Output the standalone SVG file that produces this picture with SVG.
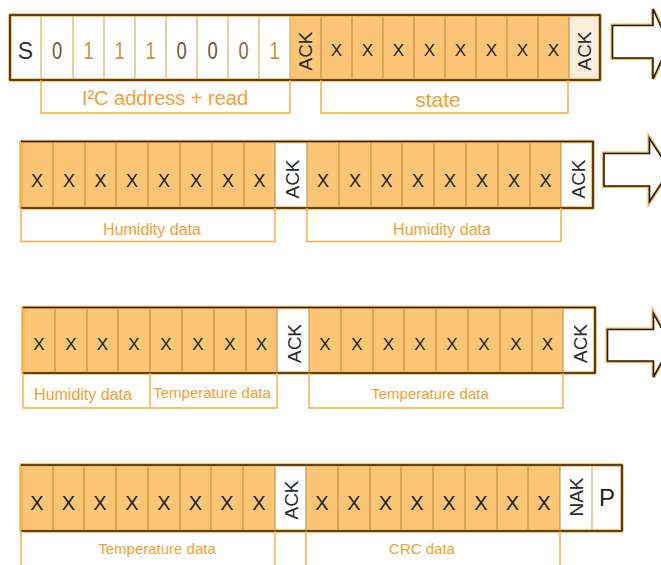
<svg xmlns="http://www.w3.org/2000/svg" width="661" height="565" viewBox="0 0 661 565">
<style>
.bg{fill:#ffffff}
.o{fill:#FDC677}
.w{fill:#ffffff}
.lt{fill:#FDEEDC}
.div{stroke:#B98536;stroke-width:1;fill:none}
.divw{stroke:#D9A04A;stroke-width:1;fill:none}
.halo{fill:none;stroke:#F8B24A;stroke-width:3.5;stroke-linejoin:round}
.frame{fill:none;stroke:#2A2112;stroke-width:1.6;stroke-linejoin:round}
.brk{fill:none;stroke:#F6AB3E;stroke-width:1.4}
.x{font-family:"Liberation Sans",Arial,sans-serif;fill:#222;text-anchor:middle}
.ack{font-family:"Liberation Sans",Arial,sans-serif;fill:#2b2b2b;text-anchor:middle;font-size:19px}
.bit{font-family:"Liberation Sans",Arial,sans-serif;text-anchor:middle;font-size:23px}
.lbl{font-family:"Liberation Sans",Arial,sans-serif;fill:#F2A132;text-anchor:middle}
.arrH{fill:none;stroke:#F8B24A;stroke-width:4;stroke-linejoin:miter}
.arr{fill:#ffffff;stroke:#231B0E;stroke-width:1.6;stroke-linejoin:miter}
</style>
<rect class="bg" x="0" y="0" width="661" height="565"/>

<!-- ROW 1 -->
<g id="row1">
  <rect class="w" x="10" y="15" width="280" height="65"/>
  <rect class="o" x="290" y="15" width="279" height="65"/>
  <rect class="lt" x="569" y="15" width="31" height="65"/>
  <path class="divw" d="M41,15V80M73,15V80M104,15V80M135,15V80M166,15V80M197,15V80M228,15V80M259,15V80M290,15V80"/>
  <path class="div" d="M321,15V80M352,15V80M383,15V80M414,15V80M445,15V80M476,15V80M507,15V80M538,15V80M569,15V80"/>
  <rect class="halo" x="10" y="15" width="590" height="65"/>
  <rect class="frame" x="10" y="15" width="590" height="65"/>
  <text class="bit" x="25.5" y="59" fill="#333" font-size="24">S</text>
  <g class="bit">
    <text transform="translate(57,59) scale(0.8,1)" fill="#6E5A3A">0</text>
    <text transform="translate(88.5,59) scale(0.8,1)" fill="#C9933A">1</text>
    <text transform="translate(119.5,59) scale(0.8,1)" fill="#C9933A">1</text>
    <text transform="translate(150.5,59) scale(0.8,1)" fill="#C9933A">1</text>
    <text transform="translate(181.5,59) scale(0.8,1)" fill="#6E5A3A">0</text>
    <text transform="translate(212.5,59) scale(0.8,1)" fill="#6E5A3A">0</text>
    <text transform="translate(243.5,59) scale(0.8,1)" fill="#8A6E40">0</text>
    <text transform="translate(274.5,59) scale(0.8,1)" fill="#C9933A">1</text>
  </g>
  <text class="ack" transform="translate(312,51) rotate(-90)">ACK</text>
  <g class="x" font-size="17">
    <text x="336.5" y="56">X</text><text x="367.5" y="56">X</text><text x="398.5" y="56">X</text><text x="429.5" y="56">X</text>
    <text x="460.5" y="56">X</text><text x="491.5" y="56">X</text><text x="522.5" y="56">X</text><text x="553.5" y="56">X</text>
  </g>
  <text class="ack" transform="translate(591,51) rotate(-90)" fill="#555">ACK</text>
</g>
<g id="row1-labels">
  <path class="brk" d="M41,80V113H290V80"/>
  <text class="lbl" x="165" y="105" font-size="20">I²C address + read</text>
  <path class="brk" d="M321,80V113H568V80"/>
  <text class="lbl" x="438" y="107" font-size="21">state</text>
</g>

<!-- ROW 2 -->
<g id="row2">
  <rect class="o" x="21" y="141.5" width="254" height="66.5"/>
  <rect class="w" x="275" y="141.5" width="32" height="66.5"/>
  <rect class="o" x="307" y="141.5" width="254" height="66.5"/>
  <rect class="w" x="561" y="141.5" width="32" height="66.5"/>
  <path class="div" d="M53,141.5V208M85,141.5V208M116,141.5V208M148,141.5V208M180,141.5V208M212,141.5V208M244,141.5V208M275,141.5V208M307,141.5V208M339,141.5V208M371,141.5V208M402,141.5V208M434,141.5V208M466,141.5V208M498,141.5V208M530,141.5V208M561,141.5V208"/>
  <rect class="halo" x="21" y="141.5" width="572" height="66.5"/>
  <path class="frame" d="M21,141.5H593V208H21"/>
  <g class="x" font-size="18">
    <text x="37" y="186.5">X</text><text x="69" y="186.5">X</text><text x="100.5" y="186.5">X</text><text x="132" y="186.5">X</text>
    <text x="164" y="186.5">X</text><text x="196" y="186.5">X</text><text x="228" y="186.5">X</text><text x="259.5" y="186.5">X</text>
    <text x="323" y="186.5">X</text><text x="355" y="186.5">X</text><text x="386.5" y="186.5">X</text><text x="418" y="186.5">X</text>
    <text x="450" y="186.5">X</text><text x="482" y="186.5">X</text><text x="514" y="186.5">X</text><text x="545.5" y="186.5">X</text>
  </g>
  <text class="ack" transform="translate(298.5,179) rotate(-90)" font-size="20">ACK</text>
  <text class="ack" transform="translate(584.5,179) rotate(-90)" font-size="20">ACK</text>
</g>
<g id="row2-labels">
  <path class="brk" d="M21,208V241.5H275V208"/>
  <text class="lbl" x="152" y="235" font-size="16">Humidity data</text>
  <path class="brk" d="M307,208V241.5H561V208"/>
  <text class="lbl" x="442" y="235" font-size="16">Humidity data</text>
</g>

<!-- ROW 3 -->
<g id="row3">
  <rect class="o" x="23" y="307.5" width="254" height="65.5"/>
  <rect class="w" x="277" y="307.5" width="32" height="65.5"/>
  <rect class="o" x="309" y="307.5" width="254" height="65.5"/>
  <rect class="w" x="563" y="307.5" width="32" height="65.5"/>
  <path class="div" d="M55,307.5V373M87,307.5V373M118,307.5V373M150,307.5V373M182,307.5V373M214,307.5V373M246,307.5V373M277,307.5V373M309,307.5V373M341,307.5V373M373,307.5V373M404,307.5V373M436,307.5V373M468,307.5V373M500,307.5V373M532,307.5V373M563,307.5V373"/>
  <rect class="halo" x="23" y="307.5" width="572" height="65.5"/>
  <path class="frame" d="M23,307.5H595V373H23"/>
  <g class="x" font-size="17">
    <text x="39" y="350">X</text><text x="71" y="350">X</text><text x="102.5" y="350">X</text><text x="134" y="350">X</text>
    <text x="166" y="350">X</text><text x="198" y="350">X</text><text x="230" y="350">X</text><text x="261.5" y="350">X</text>
    <text x="325" y="350">X</text><text x="357" y="350">X</text><text x="388.5" y="350">X</text><text x="420" y="350">X</text>
    <text x="452" y="350">X</text><text x="484" y="350">X</text><text x="516" y="350">X</text><text x="547.5" y="350">X</text>
  </g>
  <text class="ack" transform="translate(300.5,343.5) rotate(-90)" font-size="20">ACK</text>
  <text class="ack" transform="translate(586.5,343.5) rotate(-90)" font-size="20">ACK</text>
</g>
<g id="row3-labels">
  <path class="brk" d="M23,373V408H150V373M150,408H277V373"/>
  <text class="lbl" x="83" y="400" font-size="16">Humidity data</text>
  <text class="lbl" x="212" y="398" font-size="15">Temperature data</text>
  <path class="brk" d="M309,373V408H563V373"/>
  <text class="lbl" x="430" y="399" font-size="15">Temperature data</text>
</g>

<!-- ROW 4 -->
<g id="row4">
  <rect class="o" x="21" y="465" width="254" height="66"/>
  <rect class="w" x="275" y="465" width="31" height="66"/>
  <rect class="o" x="306" y="465" width="254" height="66"/>
  <rect class="w" x="560" y="465" width="62" height="66"/>
  <path class="div" d="M53,465V531M84,465V531M116,465V531M148,465V531M180,465V531M211,465V531M243,465V531M275,465V531M306,465V531M338,465V531M370,465V531M401,465V531M433,465V531M465,465V531M497,465V531M528,465V531M560,465V531"/>
  <path class="divw" d="M592,465V531"/>
  <rect class="halo" x="21" y="465" width="601" height="66"/>
  <path class="frame" d="M21,465H622V531H21"/>
  <g class="x" font-size="20">
    <text x="37" y="510">X</text><text x="68.5" y="510">X</text><text x="100" y="510">X</text><text x="132" y="510">X</text>
    <text x="164" y="510">X</text><text x="195.5" y="510">X</text><text x="227" y="510">X</text><text x="259" y="510">X</text>
    <text x="322" y="510">X</text><text x="354" y="510">X</text><text x="385.5" y="510">X</text><text x="417" y="510">X</text>
    <text x="449" y="510">X</text><text x="481" y="510">X</text><text x="512.5" y="510">X</text><text x="544" y="510">X</text>
  </g>
  <text class="ack" transform="translate(297.5,500) rotate(-90)" font-size="20">ACK</text>
  <text class="ack" transform="translate(583,497) rotate(-90)" font-size="19.5" fill="#4A3A1E">NAK</text>
  <text class="x" x="607" y="506" font-size="24">P</text>
</g>
<g id="row4-labels">
  <path class="brk" d="M21,531V566M275,531V566"/>
  <text class="lbl" x="157" y="554" font-size="15">Temperature data</text>
  <path class="brk" d="M306,531V566M560,531V566"/>
  <text class="lbl" x="422" y="554" font-size="15">CRC data</text>
</g>

<!-- connectors -->
<g id="connectors">
  <path class="arrH" d="M612.5,25.5H653V9L669,44L653,79V58H612.5Z"/>
  <path class="arr" d="M612.5,25.5H653V9L669,44L653,79V58H612.5Z"/>
  <path class="arrH" d="M604,153.5H649.5V138.5L670,170L649.5,201.5V186H604Z"/>
  <path class="arr" d="M604,153.5H649.5V138.5L670,170L649.5,201.5V186H604Z"/>
  <path class="arrH" d="M607.5,329.5H653.5V313.5L671,345L653.5,377V361H607.5Z"/>
  <path class="arr" d="M607.5,329.5H653.5V313.5L671,345L653.5,377V361H607.5Z"/>
</g>
</svg>
